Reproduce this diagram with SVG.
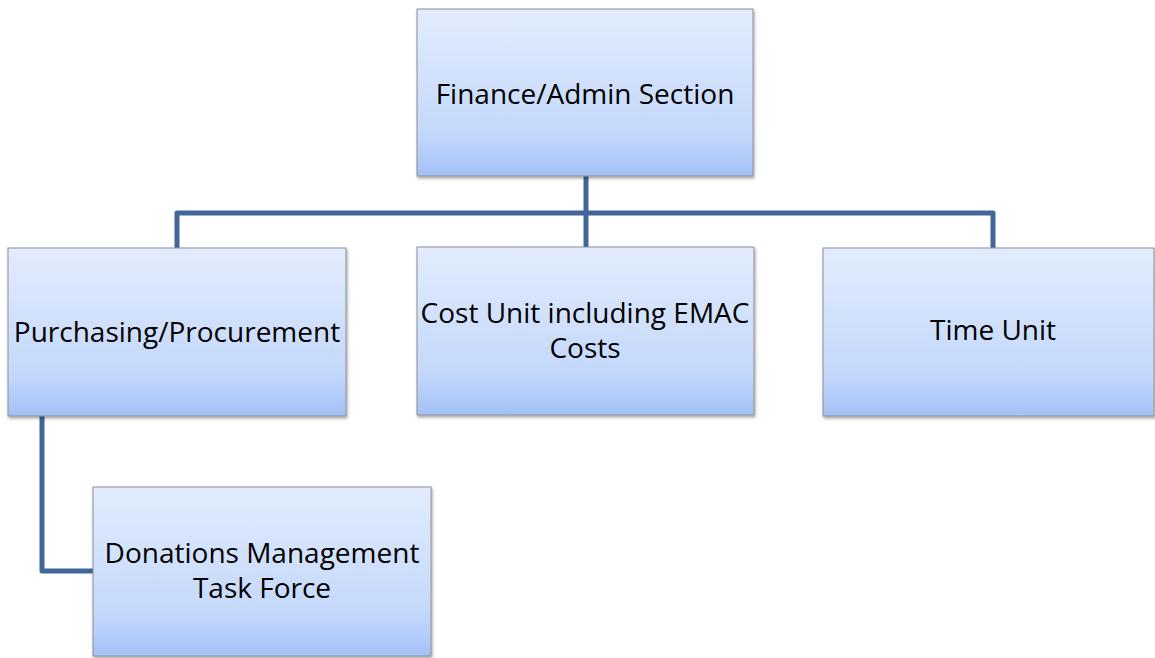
<svg xmlns="http://www.w3.org/2000/svg" width="1155" height="658" viewBox="0 0 1155 658">
<defs>
<linearGradient id="g" x1="0" y1="0" x2="0" y2="1">
<stop offset="0" stop-color="#E2ECFD"/>
<stop offset="0.75" stop-color="#C4D8FB"/>
<stop offset="1" stop-color="#A3C1F7"/>
</linearGradient>
<filter id="sh" x="-5%" y="-5%" width="110%" height="115%">
<feDropShadow dx="1" dy="2" stdDeviation="1.5" flood-color="#000" flood-opacity="0.35"/>
</filter>
</defs>
<style>
.box{fill:url(#g);stroke:#8C9096;stroke-width:1;filter:url(#sh)}
.lbl{font-family:"Open Sans","Liberation Sans",sans-serif;font-size:28px;fill:#000;text-anchor:middle}
.conn{fill:none;stroke:#41669A;stroke-width:5;stroke-linejoin:round}
</style>
<rect width="1155" height="658" fill="#fff"/>
<g id="connectors">
<path class="conn" d="M586 176 V248"/>
<path class="conn" d="M177 248 V213 H993 V248"/>
<path class="conn" d="M42 416 V571 H93"/>
</g>
<g id="finance">
<rect class="box" x="417" y="9" width="336" height="167"/>
<text class="lbl" x="585" y="104">Finance/Admin Section</text>
</g>
<g id="purchasing">
<rect class="box" x="8" y="248" width="338" height="168"/>
<text class="lbl" x="177" y="342">Purchasing/Procurement</text>
</g>
<g id="cost">
<rect class="box" x="417" y="247" width="337" height="168"/>
<text class="lbl" x="585" y="323">Cost Unit including EMAC</text>
<text class="lbl" x="585" y="358">Costs</text>
</g>
<g id="time">
<rect class="box" x="823" y="248" width="331" height="168"/>
<text class="lbl" x="993" y="340">Time Unit</text>
</g>
<g id="donations">
<rect class="box" x="93" y="487" width="338" height="169"/>
<text class="lbl" x="262" y="563">Donations Management</text>
<text class="lbl" x="262" y="598">Task Force</text>
</g>
</svg>
